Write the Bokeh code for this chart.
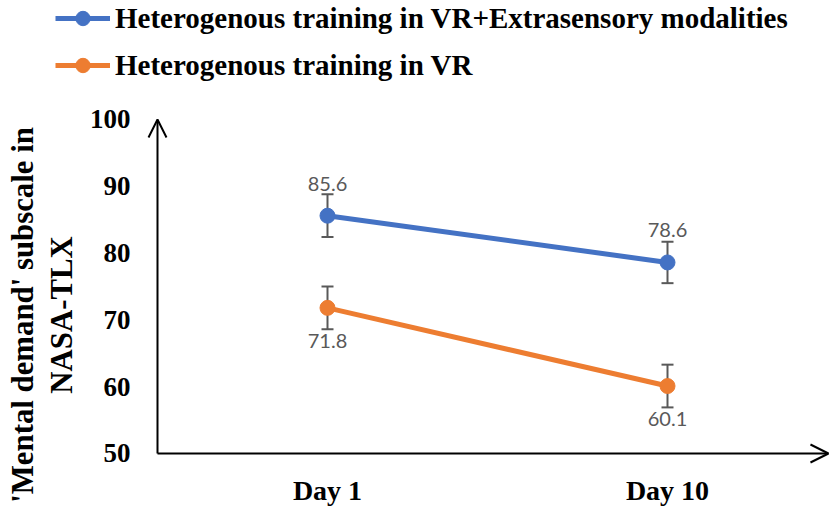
from bokeh.plotting import figure
from bokeh.models import (Range1d, FixedTicker, Legend, LegendItem, Whisker, TeeHead,
                          Arrow, OpenHead, ColumnDataSource, LinearAxis)
from bokeh.embed import file_html
from bokeh.resources import INLINE

categories = ["Day 1", "Day 10"]
vr_extra = [85.6, 78.6]
vr_extra_err = [3.2, 3.1]
vr_only = [71.8, 60.1]
vr_only_err = [3.2, 3.2]
y_ticks = [50, 60, 70, 80, 90, 100]
series_names = ["Heterogenous training in VR+Extrasensory modalities",
                "Heterogenous training in VR"]
y_title_lines = ["'Mental demand' subscale in", "NASA-TLX"]

BLUE = "#4472C4"
ORANGE = "#ED7D31"
GRAY = "#595959"
SERIF = "Liberation Serif"

xs = list(range(1, len(categories) + 1))
X_AXIS_AT, Y_AXIS_AT = 0.5, 50   # where the two axis arrows cross

p = figure(width=830, height=510,
           x_range=Range1d(0.03824, 2.47941), y_range=Range1d(41.467, 117.814),
           x_axis_location=None, y_axis_location=None, min_border=0,
           output_backend="svg", toolbar_location=None)
p.grid.visible = False
p.outline_line_color = None
p.background_fill_color = None

xaxis = LinearAxis(fixed_location=Y_AXIS_AT, ticker=FixedTicker(ticks=xs),
                   major_label_overrides={x: c for x, c in zip(xs, categories)})
yaxis = LinearAxis(fixed_location=X_AXIS_AT, ticker=FixedTicker(ticks=y_ticks),
                   bounds=(40.42, 100))
for ax in (xaxis, yaxis):
    ax.axis_line_color = None
    ax.major_tick_line_color = None
    ax.minor_tick_line_color = None
    ax.major_tick_out = 0
    ax.major_tick_in = 0
    ax.major_label_text_font = SERIF
    ax.major_label_text_font_style = "bold"
    ax.major_label_text_color = "black"
yaxis.major_label_text_font_size = "27px"
xaxis.major_label_text_font_size = "28px"
xaxis.major_label_standoff = 22
yaxis.major_label_standoff = 27
yaxis.axis_label = "\n".join(y_title_lines)
yaxis.axis_label_text_font = SERIF
yaxis.axis_label_text_font_style = "bold"
yaxis.axis_label_text_font_size = "30.8px"
yaxis.axis_label_text_line_height = 1.14
yaxis.axis_label_text_color = "black"
yaxis.axis_label_standoff = 8
p.add_layout(xaxis, "below")
p.add_layout(yaxis, "left")

# axis arrows
p.add_layout(Arrow(x_start=X_AXIS_AT, y_start=Y_AXIS_AT, x_end=X_AXIS_AT, y_end=y_ticks[-1], line_width=2,
                   line_color="black", end=OpenHead(size=18, line_width=2, line_color="black")))
p.add_layout(Arrow(x_start=X_AXIS_AT, y_start=Y_AXIS_AT, x_end=p.x_range.end - 0.006, y_end=Y_AXIS_AT,
                   line_width=2, line_color="black", end=OpenHead(size=18, line_width=2, line_color="black")))

items = []
for vals, errs, color, name, off in ((vr_extra, vr_extra_err, BLUE, series_names[0], 32),
                                      (vr_only, vr_only_err, ORANGE, series_names[1], -33)):
    src = ColumnDataSource(dict(x=xs, y=vals,
                                lo=[v - e for v, e in zip(vals, errs)],
                                hi=[v + e for v, e in zip(vals, errs)],
                                lab=[f"{v:.1f}" for v in vals]))
    p.add_layout(Whisker(source=src, base="x", lower="lo", upper="hi", line_color=GRAY, line_width=2,
                         upper_head=TeeHead(size=12, line_color=GRAY, line_width=2),
                         lower_head=TeeHead(size=12, line_color=GRAY, line_width=2)))
    r1 = p.line("x", "y", source=src, line_color=color, line_width=5)
    r2 = p.scatter("x", "y", source=src, size=15, fill_color=color, line_color=color)
    p.text("x", "y", text="lab", source=src, y_offset=-off, text_align="center",
           text_baseline="middle", text_font_size="20px", text_color=GRAY,
           text_font={"value": "Lato"})
    items.append(LegendItem(label=name, renderers=[r1, r2]))

legend = Legend(items=items, location=(55, 427), orientation="vertical",
                glyph_width=55, glyph_height=36, label_height=36, label_standoff=5, spacing=11,
                padding=0, margin=0, border_line_color=None, background_fill_alpha=0,
                label_text_font=SERIF, label_text_font_style="bold", label_text_font_size="29px",
                label_text_color="black")
p.add_layout(legend, "center")

open("out.html", "w").write(file_html(p, INLINE))
